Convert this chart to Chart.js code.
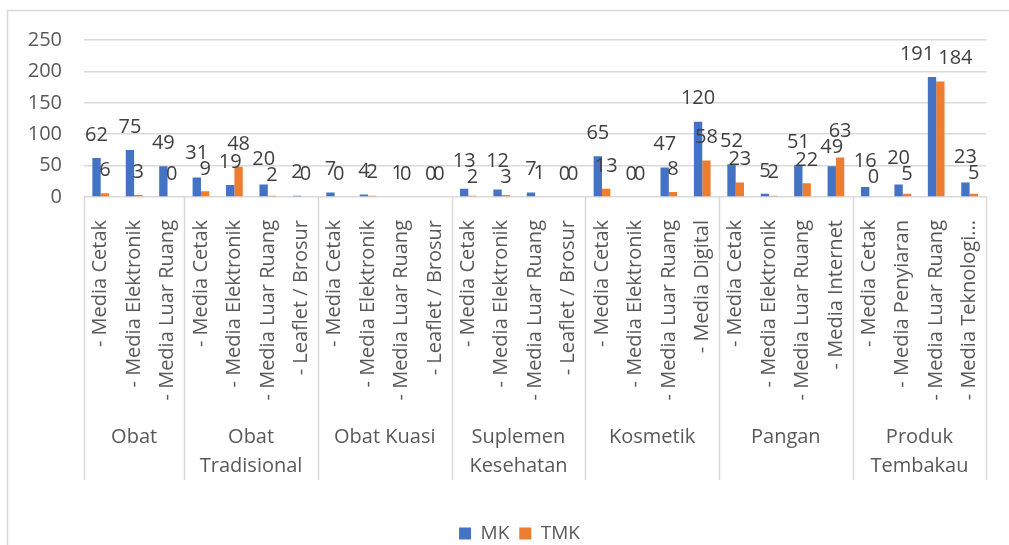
<!DOCTYPE html>
<html>
<head>
<meta charset="utf-8">
<script src="https://cdn.jsdelivr.net/npm/chart.js@4.4.1/dist/chart.umd.min.js"></script>
<style>
  html, body { margin: 0; padding: 0; background: #ffffff; }
  #wrap { width: 1009px; height: 545px; position: relative; }
  canvas { display: block; }
</style>
</head>
<body>
<div id="wrap"><canvas id="chart" width="1009" height="545"></canvas></div>
<script>
// Media types per product group (inner axis level)
const categories = [
  '- Media Cetak', '- Media Elektronik', '- Media Luar Ruang',
  '- Media Cetak', '- Media Elektronik', '- Media Luar Ruang', '- Leaflet / Brosur',
  '- Media Cetak', '- Media Elektronik', '- Media Luar Ruang', '- Leaflet / Brosur',
  '- Media Cetak', '- Media Elektronik', '- Media Luar Ruang', '- Leaflet / Brosur',
  '- Media Cetak', '- Media Elektronik', '- Media Luar Ruang', '- Media Digital',
  '- Media Cetak', '- Media Elektronik', '- Media Luar Ruang', '- Media Internet',
  '- Media Cetak', '- Media Penyiaran', '- Media Luar Ruang', '- Media Teknologi...'
];

// Product groups (outer axis level) and how many media types each holds
const groupNames = [
  ['Obat'], ['Obat', 'Tradisional'], ['Obat Kuasi'], ['Suplemen', 'Kesehatan'],
  ['Kosmetik'], ['Pangan'], ['Produk', 'Tembakau']
];
const groupSizes = [3, 4, 4, 4, 4, 4, 4];

const seriesNames = ['MK', 'TMK'];
const mkValues = [
  62, 75, 49,
  31, 19, 20, 2,
  7, 4, 1, 0,
  13, 12, 7, 0,
  65, 0, 47, 120,
  52, 5, 51, 49,
  16, 20, 191, 23
];
const tmkValues = [
  6, 3, 0,
  9, 48, 2, 0,
  0, 2, 0, 0,
  2, 3, 1, 0,
  13, 0, 8, 58,
  23, 2, 22, 63,
  0, 5, 184, 5
];

const yTicks = [0, 50, 100, 150, 200, 250];

const FONT_FAMILY = "'Open Sans', 'Liberation Sans', sans-serif";
const TEXT = '#595959';
const LINE = '#D9D9D9';

// Outer frame of the chart (left and top edges)
const chartFrame = {
  id: 'chartFrame',
  beforeDraw(chart) {
    const ctx = chart.ctx;
    ctx.save();
    ctx.strokeStyle = LINE;
    ctx.lineWidth = 1.5;
    ctx.beginPath();
    ctx.moveTo(7.5, chart.height);
    ctx.lineTo(7.5, 10.5);
    ctx.lineTo(chart.width, 10.5);
    ctx.stroke();
    ctx.restore();
  }
};

// Keep the legend row centred a little to the right of the canvas middle
const legendBand = {
  id: 'legendBand',
  afterLayout(chart) {
    if (chart.legend) chart.legend.left = 51;
  }
};

// Second category level: group separators and group names
const groupAxis = {
  id: 'groupAxis',
  afterDraw(chart) {
    const xs = chart.scales.x;
    const area = chart.chartArea;
    const ctx = chart.ctx;
    const half = (xs.getPixelForValue(1) - xs.getPixelForValue(0)) / 2;
    const lineBottom = area.bottom + 283;
    ctx.save();
    ctx.strokeStyle = LINE;
    ctx.lineWidth = 1.5;
    ctx.fillStyle = TEXT;
    ctx.font = '20px ' + FONT_FAMILY;
    ctx.textAlign = 'center';
    ctx.textBaseline = 'alphabetic';
    let start = 0;
    const edges = [];
    groupSizes.forEach((n, g) => {
      const left = xs.getPixelForValue(start) - half;
      const right = xs.getPixelForValue(start + n - 1) + half;
      if (g === 0) edges.push(left);
      edges.push(right);
      const cx = (left + right) / 2;
      groupNames[g].forEach((line, k) => {
        ctx.fillText(line, cx, area.bottom + 246 + k * 28.5);
      });
      start += n;
    });
    edges.forEach(x => {
      const px = Math.round(x) + 0.5;
      ctx.beginPath();
      ctx.moveTo(px, area.bottom);
      ctx.lineTo(px, lineBottom);
      ctx.stroke();
    });
    ctx.restore();
  }
};

// Value labels above each bar; a pair that would collide is spread apart
const valueLabels = {
  id: 'valueLabels',
  afterDatasetsDraw(chart) {
    const ctx = chart.ctx;
    ctx.save();
    ctx.font = '20px ' + FONT_FAMILY;
    ctx.fillStyle = '#404040';
    ctx.textAlign = 'center';
    ctx.textBaseline = 'middle';
    const metas = chart.data.datasets.map((_, d) => chart.getDatasetMeta(d));
    const LIFT = 23, H = 16, GAP = 4;
    categories.forEach((_, i) => {
      const items = metas.map((m, d) => {
        const bar = m.data[i];
        const text = String(chart.data.datasets[d].data[i]);
        return { text, x: bar.x, y: bar.y - LIFT, w: ctx.measureText(text).width };
      });
      const [a, b] = items;
      const dx = Math.abs(a.x - b.x);
      const dy = Math.abs(a.y - b.y);
      if (dx < (a.w + b.w) / 2 - GAP && dy < H) {
        if (a.text.length > 1 && b.text.length > 1 && dy < 6) {
          // nearly level wide labels: move sideways
          const push = ((a.w + b.w) / 2 + GAP - dx) / 2;
          a.x -= push;
          b.x += push;
        } else {
          const push = (H - dy) / 2;
          const upper = a.y <= b.y ? a : b;
          const lower = upper === a ? b : a;
          upper.y -= push;
          lower.y += push;
        }
      }
      items.forEach(it => ctx.fillText(it.text, it.x, it.y));
    });
    ctx.restore();
  }
};

new Chart(document.getElementById('chart'), {
  type: 'bar',
  data: {
    labels: categories,
    datasets: [
      { label: seriesNames[0], data: mkValues, backgroundColor: '#4472C4', borderWidth: 0,
        categoryPercentage: 0.5, barPercentage: 1.0 },
      { label: seriesNames[1], data: tmkValues, backgroundColor: '#ED7D31', borderWidth: 0,
        categoryPercentage: 0.5, barPercentage: 1.0 }
    ]
  },
  options: {
    responsive: false,
    animation: false,
    devicePixelRatio: 1,
    layout: { padding: { top: 40, left: 0, right: 21, bottom: -8 } },
    plugins: {
      tooltip: { enabled: false },
      legend: {
        position: 'bottom',
        labels: {
          boxWidth: 12, boxHeight: 12, padding: 10, color: TEXT,
          font: { family: FONT_FAMILY, size: 19 }
        }
      }
    },
    scales: {
      x: {
        grid: { display: false },
        border: { display: false },
        ticks: {
          autoSkip: false, minRotation: 90, maxRotation: 90, padding: 15,
          color: TEXT, font: { family: FONT_FAMILY, size: 20 }
        },
        afterFit(scale) { scale.height = 317; }
      },
      y: {
        min: 0, max: 250,
        grid: { color: LINE, lineWidth: 1.5, drawTicks: false },
        border: { display: false },
        ticks: { padding: 22, color: TEXT, font: { family: FONT_FAMILY, size: 20 } },
        afterBuildTicks(scale) { scale.ticks = yTicks.map(v => ({ value: v })); },
        afterFit(scale) { scale.width = 84; }
      }
    }
  },
  plugins: [chartFrame, legendBand, groupAxis, valueLabels]
});
</script>
</body>
</html>
